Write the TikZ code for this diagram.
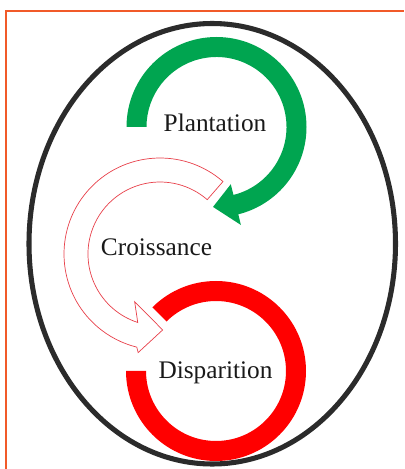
\documentclass[tikz,border=0pt]{standalone}
\usepackage{fontspec}
\setmainfont{Liberation Serif}
\usetikzlibrary{positioning,calc}
\definecolor{frameorange}{HTML}{F15A29}
\definecolor{leafgreen}{HTML}{00A550}
\definecolor{endred}{HTML}{FF0000}
\definecolor{growpink}{HTML}{E8404A}
\definecolor{rimgray}{HTML}{2B2B2B}
\tikzset{
  lbl/.style={font=\fontsize{18}{20}\selectfont, text=black!90, inner sep=0pt, anchor=base},
  ringarrow/.style={draw=none}
}

\begin{document}
\begin{tikzpicture}[x=0.025cm, y=0.025cm]
\useasboundingbox (0,0) rectangle (404,469);
% frame (top and left edges only)
\draw[frameorange, line width=1.4pt] (6,0) -- (6,458) -- (404,458);
% outer ellipse
\draw[rimgray, line width=3.6pt] (212.25,225.25) ellipse [x radius=183.25, y radius=220.25];
% centres of the three rings
\coordinate (gc) at (216.5,342);
\coordinate (wc) at (160,215);
\coordinate (rc) at (216,98);
% red ring
\fill[endred] ($(rc)+(135:90)$) arc[start angle=135, end angle=-180, radius=90]
  -- ($(rc)+(180:70)$) arc[start angle=-180, end angle=135, radius=70] -- cycle;
% white arrow with pink outline
\filldraw[fill=white, draw=growpink, line width=0.5pt]
  ($(wc)+(49:96)$) arc[start angle=49, end angle=256, radius=96]
  -- ($(wc)+(-102.5:101)$) -- ($(wc)+(-88:76)$) -- ($(wc)+(-118:54)$)
  -- ($(wc)+(-108:72)$) arc[start angle=252, end angle=49, radius=72] -- cycle;
% green arrow
\fill[leafgreen] ($(gc)+(180:90)$) arc[start angle=180, end angle=-76, radius=90]
  -- ($(gc)+(-76:101)$) -- ($(gc)+(-92.5:80)$) -- ($(gc)+(-76:59)$)
  -- ($(gc)+(-76:70)$) arc[start angle=-76, end angle=180, radius=70] -- cycle;
% labels
\node[lbl] (plantation) at (215,337) {Plantation};
\node[lbl] (croissance) at (156.5,213) {Croissance};
\node[lbl] (disparition) at (215.5,90) {Disparition};
\end{tikzpicture}
\end{document}
